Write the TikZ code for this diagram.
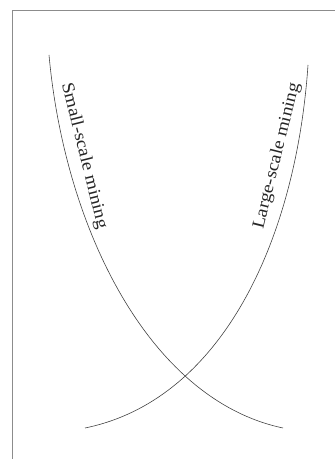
\documentclass[tikz,border=0pt]{standalone}
\usepackage{fontspec}
\setmainfont{Liberation Serif}
\begin{document}
\begin{tikzpicture}[x=0.03cm,y=-0.03cm,
  curve/.style={draw=black!75,line width=0.5pt},
  curvelabel/.style={inner sep=1pt,font=\fontsize{15}{18}\selectfont,text=black!85}]
  \useasboundingbox (0,0) rectangle (335,459);
  % frame
  \draw[black!45,line width=0.8pt] (12,459) -- (12,10) -- (335,10);
  % curves
  \draw[curve] (49,55) .. controls (65,230) and (150,400) .. (283,428);
  \draw[curve] (308,65) .. controls (296,240) and (222,400) .. (85,428);
  % labels
  \node[curvelabel,rotate=-76,xscale=1.1] (small) at (84,156) {Small-scale mining};
  \node[curvelabel,rotate=76,xscale=1.1] (large) at (277,156) {Large-scale mining};
\end{tikzpicture}
\end{document}
